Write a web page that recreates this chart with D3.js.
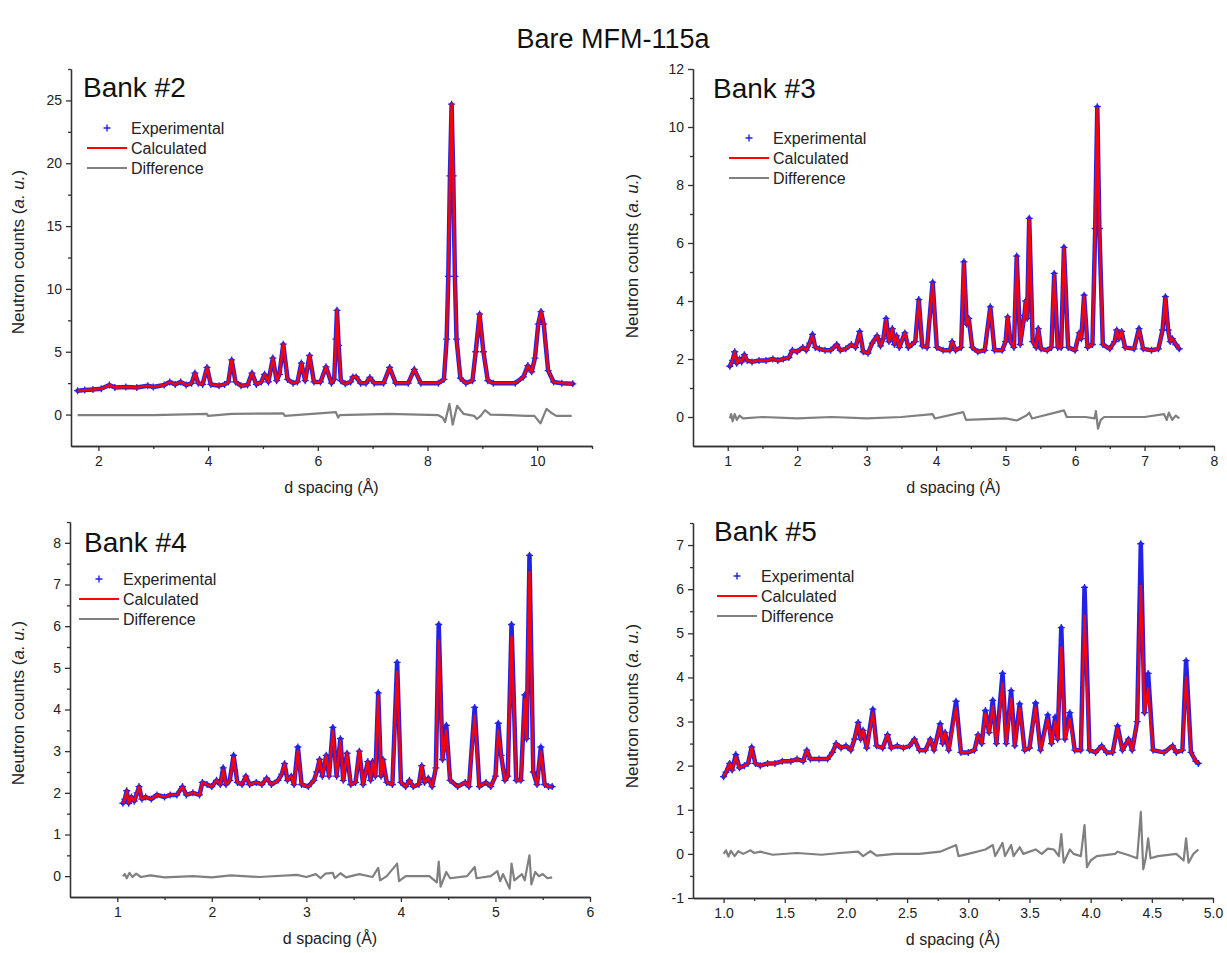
<!DOCTYPE html>
<html>
<head>
<meta charset="utf-8">
<script src="https://cdn.jsdelivr.net/npm/d3@7"></script>
<style>
  body { margin: 0; background: #fff; }
  svg { display: block; font-family: Arial, "Liberation Sans", sans-serif; }
</style>
</head>
<body>
<svg id="chart" width="1227" height="953"></svg>
<script>
// profile rows: [d spacing, calculated, experimental]; experimental only given where it sits off the fit
var bank2Profile = [
  [1.62,1.9],[1.75,1.95],[1.9,2.0],[2.05,2.05],[2.2,2.35],[2.3,2.15],[2.5,2.2],[2.7,2.15],[2.9,2.3],[3.0,2.2],
  [3.2,2.35],[3.3,2.6],[3.4,2.4],[3.5,2.6],[3.6,2.35],[3.7,2.5],[3.76,3.3],[3.82,2.5],[3.9,2.4],[3.98,3.75],
  [4.05,2.4],[4.2,2.3],[4.3,2.4],[4.37,2.6],[4.43,4.35],[4.5,2.6],[4.6,2.3],[4.72,2.35],[4.8,3.3],[4.88,2.4],
  [4.97,2.6],[5.03,3.2],[5.1,2.6],[5.18,4.5],[5.25,2.7],[5.3,3.2],[5.37,5.6],[5.45,2.8],[5.55,2.5],[5.63,2.6],
  [5.7,4.1],[5.77,2.7],[5.85,4.7],[5.93,2.6],[6.05,2.6],[6.15,3.8],[6.25,2.5],[6.3,2.8],[6.33,6.0],[6.35,8.3],
  [6.38,5.5],[6.42,2.7],[6.5,2.45],[6.6,2.6],[6.64,3.0],[6.7,3.0],[6.78,2.5],[6.88,2.5],[6.95,2.95],[7.03,2.5],
  [7.2,2.5],[7.31,3.75],[7.42,2.5],[7.65,2.5],[7.76,3.6],[7.88,2.5],[8.2,2.5],[8.3,2.8],[8.35,6],[8.38,11],
  [8.41,19],[8.44,24.7],[8.47,19],[8.5,11],[8.53,6],[8.6,2.9],[8.7,2.5],[8.82,2.7],[8.88,5],[8.95,8.0],
  [9.02,5],[9.1,2.7],[9.2,2.5],[9.6,2.5],[9.75,3.0],[9.83,3.9],[9.9,3.4],[9.96,4.5],[10.02,7.2],[10.07,8.2],
  [10.12,7.2],[10.2,3.5],[10.3,2.6],[10.45,2.5],[10.65,2.45]
];
var bank2Diff = [
  [1.62,-0.05],[2.0,-0.05],[3.0,-0.05],[3.98,0.05],[4.0,-0.1],[4.43,0.05],[5.37,0.1],[5.4,-0.1],[6.33,0.2],[6.37,-0.25],
  [6.4,-0.05],[7.3,0.05],[8.2,-0.05],[8.28,-0.25],[8.32,-0.6],[8.4,0.85],[8.46,-0.8],[8.54,0.7],[8.66,0.05],[8.85,-0.1],
  [8.9,-0.35],[8.97,-0.1],[9.05,0.35],[9.15,0.0],[9.5,-0.05],[9.8,-0.1],[9.95,-0.1],[10.06,-0.7],[10.17,0.45],[10.27,0.1],
  [10.35,-0.1],[10.63,-0.1]
];

var bank3Profile = [
  [1.03,1.75],[1.07,1.95],[1.1,2.25],[1.13,1.85],[1.17,2.0],[1.2,1.9],[1.24,2.15],[1.28,1.95],[1.35,1.9],[1.45,1.95],
  [1.55,1.95],[1.65,2.0],[1.72,1.95],[1.8,2.0],[1.88,2.05],[1.93,2.3],[2.0,2.25],[2.08,2.4],[2.13,2.3],[2.18,2.55],
  [2.22,2.8,2.85],[2.26,2.4],[2.32,2.35],[2.4,2.3],[2.48,2.3],[2.57,2.5],[2.62,2.3],[2.7,2.35],[2.78,2.5],[2.84,2.4],
  [2.9,2.9,2.95],[2.95,2.25],[3.02,2.2],[3.08,2.55],[3.15,2.8],[3.2,2.45],[3.24,2.7],[3.28,3.35,3.4],[3.32,2.6],[3.37,3.05],
  [3.4,2.5],[3.43,2.8],[3.47,2.4],[3.55,2.9],[3.6,2.4],[3.65,2.5],[3.7,2.6],[3.75,4.0,4.05],[3.8,2.45],[3.87,2.4],
  [3.95,4.6,4.65],[4.01,2.4],[4.1,2.3],[4.2,2.3],[4.23,2.6],[4.28,2.3],[4.36,2.4],[4.40,5.3,5.35],[4.44,3.2],[4.47,3.4],
  [4.52,2.4],[4.6,2.25],[4.7,2.3],[4.78,3.75,3.8],[4.84,2.3],[4.95,2.3],[5.0,2.6],[5.03,3.45],[5.07,2.6],[5.12,2.4],
  [5.16,5.5,5.55],[5.21,2.5],[5.27,3.5],[5.29,4.0],[5.31,3.4],[5.34,6.8,6.85],[5.39,2.6],[5.44,2.4],[5.47,3.05],[5.51,2.35],
  [5.6,2.3],[5.66,2.4],[5.70,4.9,4.95],[5.75,2.4],[5.8,2.4],[5.84,5.8,5.85],[5.9,2.4],[6.0,2.3],[6.06,2.9],[6.09,2.7],
  [6.13,4.15,4.2],[6.18,2.4],[6.25,2.5],[6.29,6.5],[6.32,10.65,10.7],[6.35,6.5],[6.4,2.5],[6.5,2.35],[6.57,2.6],[6.6,3.0],
  [6.63,2.7],[6.67,2.95],[6.72,2.4],[6.85,2.35],[6.92,3.0,3.05],[6.98,2.35],[7.1,2.3],[7.2,2.35],[7.26,3.0],[7.30,4.1,4.15],
  [7.34,3.0],[7.37,2.6],[7.4,2.7],[7.45,2.5],[7.5,2.35]
];
var bank3Diff = [
  [1.03,-0.05],[1.05,0.1],[1.07,-0.15],[1.1,0.1],[1.13,-0.1],[1.17,0.05],[1.22,-0.05],[1.5,0.0],[2.0,-0.05],[2.5,0.0],
  [3.0,-0.05],[3.5,0.0],[3.95,0.1],[3.98,-0.05],[4.39,0.17],[4.43,-0.1],[5.0,-0.05],[5.16,-0.12],[5.3,0.05],[5.34,0.15],
  [5.38,-0.05],[5.84,0.23],[5.88,0.0],[6.15,0.0],[6.28,-0.05],[6.3,0.2],[6.33,-0.4],[6.37,-0.1],[6.42,0.0],[7.0,0.0],
  [7.28,0.1],[7.32,-0.1],[7.35,0.15],[7.4,-0.1],[7.45,0.05],[7.5,-0.05]
];

var bank4Profile = [
  [1.06,1.75],[1.08,1.85],[1.1,2.05],[1.12,1.75],[1.15,1.9],[1.18,1.8],[1.21,2.0],[1.23,2.15],[1.26,1.85],[1.3,1.9],
  [1.36,1.85],[1.42,1.95],[1.5,1.9],[1.56,1.95],[1.63,1.95],[1.69,2.15],[1.73,1.95],[1.8,2.0],[1.87,1.95],[1.9,2.25],
  [1.95,2.2],[2.0,2.15],[2.05,2.3],[2.09,2.2],[2.12,2.55,2.6],[2.15,2.2],[2.19,2.3],[2.23,2.85,2.9],[2.27,2.25],[2.32,2.2],
  [2.36,2.4],[2.4,2.2],[2.47,2.25],[2.53,2.2],[2.58,2.35],[2.63,2.2],[2.7,2.3],[2.74,2.45],[2.77,2.7],[2.8,2.3],
  [2.84,2.4],[2.87,2.2],[2.91,3.0,3.1],[2.95,2.2],[3.02,2.15],[3.08,2.3],[3.11,2.5],[3.14,2.8],[3.17,2.4],[3.21,2.9],
  [3.24,2.4],[3.28,3.5,3.57],[3.32,2.4],[3.36,3.25,3.3],[3.39,2.3],[3.43,2.95],[3.47,2.2],[3.52,2.25],[3.56,3.0],[3.6,2.2],
  [3.65,2.75],[3.68,2.3],[3.7,2.75],[3.73,2.4],[3.76,4.33,4.4],[3.79,2.4],[3.81,2.8],[3.85,2.25],[3.91,2.2],[3.96,4.9,5.13],
  [4.0,2.25],[4.05,2.15],[4.09,2.3],[4.13,2.15],[4.19,2.2],[4.22,2.65],[4.25,2.25],[4.29,2.35],[4.33,2.15],[4.37,2.6],
  [4.40,5.65,6.04],[4.44,2.8],[4.48,3.5,3.62],[4.52,2.3],[4.6,2.15],[4.68,2.25],[4.72,2.15],[4.78,3.85,4.05],[4.83,2.15],[4.9,2.25],
  [4.95,2.15],[5.0,2.4],[5.03,3.5,3.67],[5.06,2.9],[5.1,2.3],[5.13,2.4],[5.17,5.75,6.04],[5.22,2.3],[5.27,2.3],[5.31,4.25,4.35],
  [5.33,3.3],[5.36,7.3,7.7],[5.4,2.5],[5.44,2.2],[5.48,3.0,3.1],[5.52,2.2],[5.56,2.15],[5.6,2.15]
];
var bank4Diff = [
  [1.06,0.0],[1.08,0.05],[1.1,-0.05],[1.13,0.08],[1.16,-0.02],[1.2,0.06],[1.25,-0.02],[1.35,0.02],[1.5,-0.03],[1.8,0.0],
  [2.0,-0.03],[2.2,0.02],[2.5,-0.02],[2.9,0.03],[3.0,-0.02],[3.1,0.05],[3.15,-0.05],[3.2,0.06],[3.28,0.08],[3.3,-0.05],
  [3.36,0.07],[3.42,-0.03],[3.56,0.05],[3.7,-0.02],[3.76,0.2],[3.78,-0.1],[3.85,0.0],[3.96,0.3],[3.98,-0.12],[4.05,0.0],
  [4.3,0.0],[4.38,-0.15],[4.40,0.35],[4.42,-0.25],[4.48,0.1],[4.52,-0.05],[4.7,0.0],[4.78,0.22],[4.8,-0.05],[4.95,0.0],
  [5.02,0.12],[5.05,-0.12],[5.08,0.05],[5.15,-0.3],[5.17,0.3],[5.2,-0.1],[5.28,0.05],[5.31,-0.1],[5.33,0.15],[5.36,0.5],
  [5.38,-0.2],[5.42,0.1],[5.46,0.0],[5.5,0.05],[5.55,-0.05],[5.6,-0.03]
];

var bank5Profile = [
  [1.0,1.75],[1.02,1.85],[1.05,2.05],[1.07,1.9],[1.1,2.2,2.25],[1.13,1.95],[1.17,2.0],[1.2,2.05],[1.23,2.4,2.42],[1.26,2.05],
  [1.3,2.0],[1.36,2.05],[1.42,2.05],[1.48,2.1],[1.55,2.1],[1.6,2.15],[1.65,2.1],[1.68,2.35],[1.71,2.15],[1.78,2.15],
  [1.85,2.15],[1.89,2.3],[1.92,2.5],[1.96,2.4],[2.0,2.45],[2.04,2.35],[2.07,2.6],[2.1,2.95,2.98],[2.12,2.6],[2.14,2.8],
  [2.17,2.4],[2.22,3.2,3.28],[2.25,2.45],[2.3,2.4],[2.34,2.7],[2.37,2.4],[2.42,2.45],[2.47,2.4],[2.52,2.45],[2.56,2.6],
  [2.6,2.35],[2.65,2.35],[2.69,2.6],[2.72,2.35],[2.77,2.9,2.95],[2.79,2.5],[2.81,2.75],[2.84,2.35],[2.9,3.3,3.46],[2.94,2.3],
  [3.0,2.3],[3.05,2.35],[3.08,2.7],[3.11,2.5],[3.14,3.18,3.25],[3.17,2.75],[3.2,3.34,3.48],[3.23,2.5],[3.28,3.86,4.09],[3.31,2.5],
  [3.35,3.52,3.7],[3.38,2.45],[3.42,3.3,3.4],[3.46,2.35],[3.5,2.4],[3.55,3.32,3.42],[3.59,2.35],[3.65,3.05,3.15],[3.68,2.5],[3.71,3.0,3.1],
  [3.73,2.6],[3.76,4.68,5.13],[3.79,2.6],[3.83,3.05,3.2],[3.87,2.35],[3.92,2.35],[3.95,5.4,6.04],[3.99,2.35],[4.04,2.3],[4.09,2.45],
  [4.13,2.3],[4.18,2.3],[4.22,2.85,2.9],[4.26,2.35],[4.31,2.6],[4.34,2.35],[4.38,3.0],[4.41,6.08,7.03],[4.44,3.2],[4.47,3.75,4.09],
  [4.51,2.35],[4.6,2.3],[4.67,2.45],[4.7,2.3],[4.75,2.35],[4.78,4.0,4.38],[4.82,2.3],[4.86,2.1],[4.88,2.05]
];
var bank5Diff = [
  [1.0,0.0],[1.02,0.08],[1.04,-0.06],[1.06,0.07],[1.09,-0.05],[1.12,0.06],[1.16,0.0],[1.22,0.08],[1.25,0.02],[1.3,0.05],
  [1.4,-0.02],[1.6,0.02],[1.8,-0.02],[1.95,0.02],[2.1,0.05],[2.14,-0.05],[2.2,0.06],[2.25,-0.04],[2.4,0.0],[2.6,0.0],
  [2.77,0.05],[2.9,0.2],[2.92,-0.05],[3.0,0.0],[3.14,0.1],[3.2,0.2],[3.22,-0.05],[3.28,0.25],[3.3,-0.05],[3.35,0.2],
  [3.37,-0.05],[3.42,0.15],[3.45,0.0],[3.55,0.1],[3.6,0.0],[3.65,0.12],[3.7,0.1],[3.74,-0.05],[3.76,0.45],[3.78,-0.2],
  [3.83,0.1],[3.86,0.0],[3.92,-0.05],[3.95,0.65],[3.97,-0.3],[4.0,-0.15],[4.05,-0.05],[4.2,0.0],[4.22,0.05],[4.3,-0.02],
  [4.38,-0.1],[4.41,0.95],[4.43,-0.35],[4.45,-0.1],[4.47,0.35],[4.49,-0.1],[4.55,-0.05],[4.7,0.0],[4.76,-0.15],[4.78,0.35],
  [4.8,-0.2],[4.84,0.0],[4.88,0.1]
];

// tick values
var bank2XTicks = [2, 4, 6, 8, 10], bank2XMinor = [3, 5, 7, 9, 11];
var bank2YTicks = [0, 5, 10, 15, 20, 25], bank2YMinor = [2.5, 7.5, 12.5, 17.5, 22.5, 27.5];
var bank3XTicks = [1, 2, 3, 4, 5, 6, 7, 8], bank3XMinor = [1.5, 2.5, 3.5, 4.5, 5.5, 6.5, 7.5];
var bank3YTicks = [0, 2, 4, 6, 8, 10, 12], bank3YMinor = [1, 3, 5, 7, 9, 11];
var bank4XTicks = [1, 2, 3, 4, 5, 6], bank4XMinor = [1.5, 2.5, 3.5, 4.5, 5.5];
var bank4YTicks = [0, 1, 2, 3, 4, 5, 6, 7, 8], bank4YMinor = [0.5, 1.5, 2.5, 3.5, 4.5, 5.5, 6.5, 7.5, 8.5];
var bank5XTicks = [1.0, 1.5, 2.0, 2.5, 3.0, 3.5, 4.0, 4.5, 5.0], bank5XMinor = [1.25, 1.75, 2.25, 2.75, 3.25, 3.75, 4.25, 4.75];
var bank5YTicks = [-1, 0, 1, 2, 3, 4, 5, 6, 7], bank5YMinor = [-0.5, 0.5, 1.5, 2.5, 3.5, 4.5, 5.5, 6.5, 7.5];

var legendLabels = ["Experimental", "Calculated", "Difference"];

var blue = "#2222e8", red = "#ff0000", grey = "#808080", ink = "#222";

var panels = [
  {title: "Bank #2", profile: bank2Profile, diff: bank2Diff, xDomain: [1.5, 11], yDomain: [-2.5, 27.5],
   xTicks: bank2XTicks, xMinor: bank2XMinor, yTicks: bank2YTicks, yMinor: bank2YMinor, xFmt: d3.format("d"),
   left: 71, top: 69, width: 521, height: 377, titleAt: [83, 97], legendAt: [87, 128], yLabelAt: [24, 252]},
  {title: "Bank #3", profile: bank3Profile, diff: bank3Diff, xDomain: [0.5, 8], yDomain: [-1, 12],
   xTicks: bank3XTicks, xMinor: bank3XMinor, yTicks: bank3YTicks, yMinor: bank3YMinor, xFmt: d3.format("d"),
   left: 693, top: 69, width: 521, height: 377, titleAt: [713, 98], legendAt: [729, 138], yLabelAt: [638, 256]},
  {title: "Bank #4", profile: bank4Profile, diff: bank4Diff, xDomain: [0.5, 6], yDomain: [-0.5, 8.5],
   xTicks: bank4XTicks, xMinor: bank4XMinor, yTicks: bank4YTicks, yMinor: bank4YMinor, xFmt: d3.format("d"),
   left: 70, top: 522, width: 520, height: 375, titleAt: [84, 552], legendAt: [79, 579], yLabelAt: [24, 703]},
  {title: "Bank #5", profile: bank5Profile, diff: bank5Diff, xDomain: [0.75, 5], yDomain: [-1, 7.5],
   xTicks: bank5XTicks, xMinor: bank5XMinor, yTicks: bank5YTicks, yMinor: bank5YMinor, xFmt: d3.format(".1f"),
   left: 693, top: 523, width: 520, height: 375, titleAt: [714, 541], legendAt: [717, 576], yLabelAt: [638, 706]}
];

var svg = d3.select("#chart");

svg.append("text")
  .attr("x", 613).attr("y", 48)
  .attr("text-anchor", "middle")
  .style("font-size", "27px").style("fill", "#111")
  .text("Bare MFM-115a");

var plus = "M-3.5,0H3.5M0,-3.5V3.5";

panels.forEach(function (p) {
  var x = d3.scaleLinear().domain(p.xDomain).range([p.left, p.left + p.width]);
  var y = d3.scaleLinear().domain(p.yDomain).range([p.top + p.height, p.top]);

  var g = svg.append("g");

  // axes: minor ticks first, then labelled major ticks
  var xMinorAxis = d3.axisBottom(x).tickValues(p.xMinor).tickSize(3).tickSizeOuter(0).tickFormat("");
  var xAxis = d3.axisBottom(x).tickValues(p.xTicks).tickSize(5).tickSizeOuter(0).tickPadding(5).tickFormat(p.xFmt);
  var yMinorAxis = d3.axisLeft(y).tickValues(p.yMinor).tickSize(3).tickSizeOuter(0).tickFormat("");
  var yAxis = d3.axisLeft(y).tickValues(p.yTicks).tickSize(5).tickSizeOuter(0).tickPadding(4)
    .tickFormat(function (d) { return String(d); });

  [xMinorAxis, xAxis].forEach(function (ax) {
    g.append("g").attr("class", "axis")
      .attr("transform", "translate(0," + (p.top + p.height) + ")")
      .call(ax);
  });
  [yMinorAxis, yAxis].forEach(function (ax) {
    g.append("g").attr("class", "axis")
      .attr("transform", "translate(" + p.left + ",0)")
      .call(ax);
  });
  g.selectAll(".axis path, .axis line").style("stroke", "#333").style("stroke-width", 1.3);
  g.selectAll(".axis text").style("font-size", "14px").style("fill", ink)
    .style("font-family", "Arial, 'Liberation Sans', sans-serif");

  // difference curve
  var diffLine = d3.line().x(function (d) { return x(d[0]); }).y(function (d) { return y(d[1]); });
  g.append("path").datum(p.diff)
    .attr("d", diffLine)
    .style("fill", "none").style("stroke", grey).style("stroke-width", 2.2)
    .style("stroke-linejoin", "round");

  // experimental points: band of overlapping markers + the markers themselves
  var obsLine = d3.line()
    .x(function (d) { return x(d[0]); })
    .y(function (d) { return y(d.length > 2 ? d[2] : d[1]); });
  g.append("path").datum(p.profile)
    .attr("d", obsLine)
    .style("fill", "none").style("stroke", blue).style("stroke-width", 4.5)
    .style("stroke-linejoin", "round").style("stroke-linecap", "round");
  g.selectAll(".obs").data(p.profile).enter().append("path")
    .attr("class", "obs")
    .attr("transform", function (d) {
      return "translate(" + x(d[0]) + "," + y(d.length > 2 ? d[2] : d[1]) + ")";
    })
    .attr("d", plus)
    .style("stroke", blue).style("stroke-width", 1.3);

  // calculated profile
  var calcLine = d3.line().x(function (d) { return x(d[0]); }).y(function (d) { return y(d[1]); });
  g.append("path").datum(p.profile)
    .attr("d", calcLine)
    .style("fill", "none").style("stroke", red).style("stroke-width", 2.4)
    .style("stroke-linejoin", "round");

  // panel title
  g.append("text")
    .attr("x", p.titleAt[0]).attr("y", p.titleAt[1])
    .style("font-size", "28px").style("fill", "#111")
    .text(p.title);

  // legend
  var lx = p.legendAt[0], ly = p.legendAt[1];
  g.append("path").attr("d", plus)
    .attr("transform", "translate(" + (lx + 20) + "," + ly + ")")
    .style("stroke", blue).style("stroke-width", 1.4);
  g.append("line").attr("x1", lx).attr("x2", lx + 40).attr("y1", ly + 20).attr("y2", ly + 20)
    .style("stroke", red).style("stroke-width", 2.2);
  g.append("line").attr("x1", lx).attr("x2", lx + 40).attr("y1", ly + 40).attr("y2", ly + 40)
    .style("stroke", grey).style("stroke-width", 2.2);
  legendLabels.forEach(function (t, i) {
    g.append("text")
      .attr("x", lx + 44).attr("y", ly + 20 * i + 6)
      .style("font-size", "16px").style("fill", ink)
      .text(t);
  });

  // axis titles
  g.append("text")
    .attr("x", p.left + p.width / 2).attr("y", p.top + p.height + 47)
    .attr("text-anchor", "middle")
    .style("font-size", "16px").style("fill", ink)
    .text("d spacing (\u00C5)");

  var yl = g.append("text")
    .attr("transform", "translate(" + p.yLabelAt[0] + "," + p.yLabelAt[1] + ") rotate(-90)")
    .attr("text-anchor", "middle")
    .style("font-size", "17px").style("fill", ink);
  yl.append("tspan").text("Neutron counts (");
  yl.append("tspan").style("font-style", "italic").text("a.");
  yl.append("tspan").text(" ");
  yl.append("tspan").style("font-style", "italic").text("u.");
  yl.append("tspan").text(")");
});
</script>
</body>
</html>
